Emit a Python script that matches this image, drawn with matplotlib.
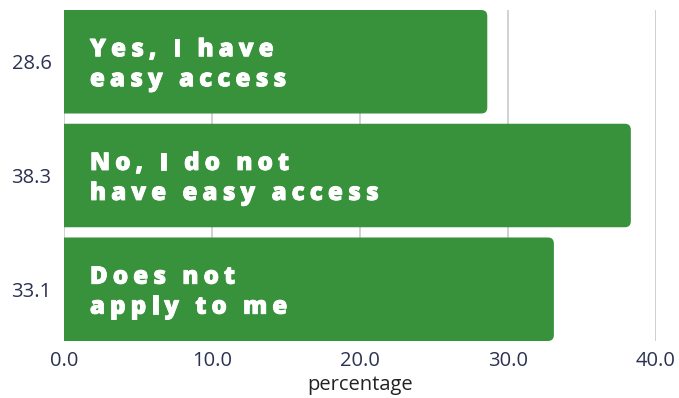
import matplotlib
matplotlib.use("Agg")
import matplotlib.pyplot as plt
from matplotlib.patches import FancyBboxPatch
from matplotlib.font_manager import FontProperties
import matplotlib.transforms as mtransforms
import matplotlib.patheffects as pe

# data
labels = ["Yes, I have\neasy access", "No, I do not\nhave easy access", "Does not\napply to me"]
values = [28.6, 38.3, 33.1]
tick_labels = ["28.6", "38.3", "33.1"]

BAR_COLOR = "#37923b"
TICK_COLOR = "#2b3252"
GRID_COLOR = "#cdcdd2"

plt.rcParams["font.family"] = ["Open Sans", "DejaVu Sans"]

fig = plt.figure(figsize=(6.79, 3.98), dpi=100)
ax = fig.add_axes([64 / 679, 1 - 341 / 398, (656 - 64) / 679, (341 - 10) / 398])

bh = 0.91
pos = list(range(len(values)))
bars = ax.barh(pos, values, height=bh, color=BAR_COLOR)
ax.set_xlim(0, 40)
ax.set_ylim(2 + bh / 2, -bh / 2)

# swap plain rectangles for right-rounded ones (left corners clipped off at x<0)
px_x = 592 / 40.0
px_y = 331 / (2 + bh)
rad_px = 6
rx = rad_px / px_x
aspect = (rad_px / px_y) / rx
for r in bars:
    r.set_visible(False)
    x0, y0 = r.get_x(), r.get_y()
    w, h = r.get_width(), r.get_height()
    p = FancyBboxPatch((x0 - 1.0, y0), w + 1.0, h,
                       boxstyle=f"round,pad=0,rounding_size={rx}",
                       mutation_aspect=aspect, fc=BAR_COLOR, ec="none",
                       zorder=2)
    ax.add_patch(p)
    p.set_clip_path(ax.patch)

ax.set_xticks([0, 10, 20, 30, 40])
ax.set_xticklabels([f"{v:.1f}" for v in [0, 10, 20, 30, 40]])
ax.set_yticks(pos)
ax.set_yticklabels(tick_labels)
ax.tick_params(length=0, labelsize=14.5, colors=TICK_COLOR)
ax.tick_params(axis="x", pad=7)
ax.tick_params(axis="y", pad=9)
ax.grid(axis="x", color=GRID_COLOR, linewidth=1.3, zorder=0)
ax.set_axisbelow(True)
for s in ax.spines.values():
    s.set_visible(False)
ax.set_xlabel("percentage", fontsize=14.5, color="#222222", labelpad=3)

# letter-spaced bar labels
fp = FontProperties(family=["Open Sans", "DejaVu Sans"], weight="heavy", size=17.5)
renderer = fig.canvas.get_renderer()
tracking = 5.0
line_gap = 30
thick = [pe.withStroke(linewidth=0.6, foreground="white")]
for i, lab in enumerate(labels):
    lines = lab.split("\n")
    n = len(lines)
    for j, line in enumerate(lines):
        dy = (j - (n - 1) / 2) * line_gap
        xoff = 0.0
        for ch in line:
            tr = mtransforms.offset_copy(ax.transData, fig=fig, x=xoff * 72 / 100,
                                         y=-dy * 72 / 100, units="points")
            ax.text(1.75, pos[i], ch, transform=tr, fontproperties=fp,
                    color="white", ha="left", va="center_baseline", zorder=3,
                    path_effects=thick)
            if ch == " ":
                w = renderer.get_text_width_height_descent("a a", fp, ismath=False)[0] - \
                    renderer.get_text_width_height_descent("aa", fp, ismath=False)[0]
            else:
                w = renderer.get_text_width_height_descent(ch, fp, ismath=False)[0]
            xoff += w + tracking

fig.savefig("out.png", dpi=100)
